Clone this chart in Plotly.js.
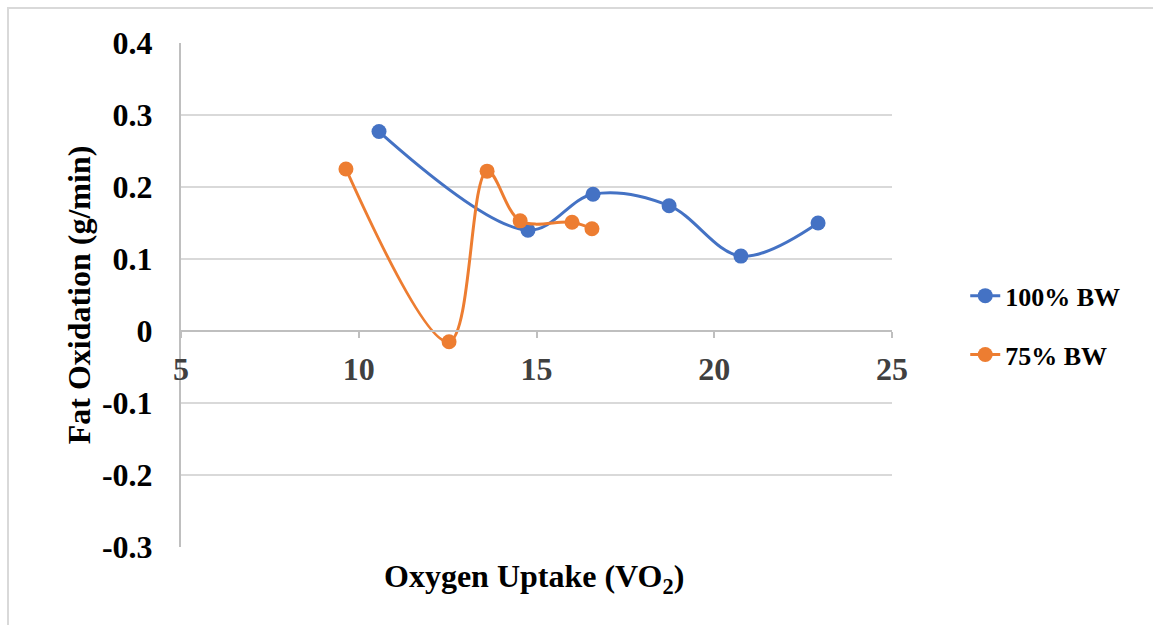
<!DOCTYPE html>
<html>
<head>
<meta charset="utf-8">
<script src="https://cdn.plot.ly/plotly-3.0.1.min.js"></script>
<style>
  html, body { margin: 0; padding: 0; background: #ffffff; }
  #chart { width: 1153px; height: 625px; }
</style>
</head>
<body>
<div id="chart"></div>
<script>
// Data
const seriesNames = ["100% BW", "75% BW"];
const bw100_x = [10.57, 14.76, 16.59, 18.73, 20.75, 22.92];
const bw100_y = [0.277, 0.140, 0.190, 0.174, 0.104, 0.150];
const bw75_x = [9.64, 12.54, 13.61, 14.54, 16.0, 16.56];
const bw75_y = [0.225, -0.015, 0.222, 0.153, 0.151, 0.142];

const xTickVals = [5, 10, 15, 20, 25];
const xTickText = ["5", "10", "15", "20", "25"];
const yTickVals = [0.4, 0.3, 0.2, 0.1, 0, -0.1, -0.2, -0.3];
const yTickText = ["0.4", "0.3", "0.2", "0.1", "0", "-0.1", "-0.2", "-0.3"];

const xTitle = "Oxygen Uptake (VO<sub>2</sub>)";
const yTitle = "Fat Oxidation (g/min)";

const serif = "Liberation Serif, Times New Roman, serif";
const blue = "#4472C4";
const orange = "#ED7D31";

const yMin = -0.3, yMax = 0.4;

const traces = [
  {
    x: bw100_x, y: bw100_y, name: seriesNames[0], type: "scatter", mode: "lines+markers",
    legendgroup: "a",
    line: { color: blue, width: 3, shape: "spline", smoothing: 1 },
    marker: { color: blue, size: 15, symbol: "circle" },
    cliponaxis: false
  },
  {
    x: bw75_x, y: bw75_y, name: seriesNames[1], type: "scatter", mode: "lines+markers",
    legendgroup: "b",
    line: { color: orange, width: 3, shape: "spline", smoothing: 1 },
    marker: { color: orange, size: 15, symbol: "circle" },
    cliponaxis: false
  }
];

const layout = {
  width: 1153, height: 625,
  margin: { l: 181, r: 261, t: 43, b: 78 },
  paper_bgcolor: "#ffffff",
  plot_bgcolor: "#ffffff",
  showlegend: true,
  legend: {
    x: 1.103, y: 0.44, xanchor: "left", yanchor: "middle",
    font: { family: serif, size: 26, color: "#000000", weight: "bold" },
    traceorder: "grouped", tracegroupgap: 22,
    bgcolor: "rgba(0,0,0,0)"
  },
  xaxis: {
    range: [5, 25],
    anchor: "free",
    position: (0 - yMin) / (yMax - yMin),
    tickvals: xTickVals, ticktext: xTickText,
    showgrid: false, zeroline: false,
    showline: true, linecolor: "#bfbfbf", linewidth: 2,
    ticks: "outside", ticklen: 6, tickwidth: 2, tickcolor: "#bfbfbf",
    ticklabelstandoff: 4,
    tickfont: { family: serif, size: 32, color: "#404040", weight: "bold" }
  },
  yaxis: {
    range: [yMin, yMax],
    tickvals: yTickVals, ticktext: yTickText,
    showgrid: true, gridcolor: "#d9d9d9", gridwidth: 2,
    zeroline: false,
    showline: true, linecolor: "#bfbfbf", linewidth: 2,
    ticks: "",
    ticklabelstandoff: 20,
    tickfont: { family: serif, size: 32, color: "#000000", weight: "bold" }
  },
  annotations: [
    {
      text: xTitle, xref: "paper", yref: "paper",
      x: 0.496, y: -0.062, xanchor: "center", yanchor: "middle",
      showarrow: false,
      font: { family: serif, size: 32, color: "#000000", weight: "bold" }
    },
    {
      text: yTitle, xref: "paper", yref: "paper",
      x: -0.143, y: 0.5, xanchor: "center", yanchor: "middle",
      textangle: -90, showarrow: false,
      font: { family: serif, size: 32, color: "#000000", weight: "bold" }
    }
  ],
  shapes: [
    {
      type: "rect", xref: "paper", yref: "paper",
      x0: (8 - 181) / 711, x1: (1170 - 181) / 711,
      y0: (547 - 650) / 504, y1: (547 - 8) / 504,
      line: { color: "#d9d9d9", width: 2 }, fillcolor: "rgba(0,0,0,0)",
      layer: "below"
    }
  ]
};

Plotly.newPlot("chart", traces, layout, { displayModeBar: false, staticPlot: true });
</script>
</body>
</html>
